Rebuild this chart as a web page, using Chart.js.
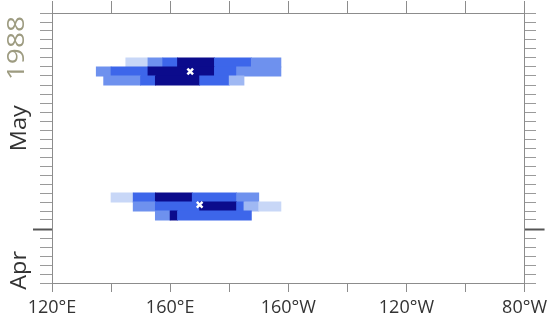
<!DOCTYPE html>
<html>
<head>
<meta charset="utf-8">
<script src="https://cdn.jsdelivr.net/npm/chart.js@4/dist/chart.umd.min.js"></script>
<style>
  html, body { margin: 0; padding: 0; background: #fff; }
</style>
</head>
<body>
<canvas id="hov" width="552" height="327"></canvas>
<script>
// Longitude axis (degrees east) and day axis (days since 25 Apr 1988)
const lonTicks = [120, 160, 200, 240, 280];
const lonTickLabels = ['120°E', '160°E', '160°W', '120°W', '80°W'];
const monthLabels = ['Apr', 'May'];
const monthLabelDays = [1.4, 17.2];
const monthStartDays = [6];          // 1 May
const yearLabel = '1988';
const yearLabelDay = 26.1;

// Shaded cells: west edge, east edge, day row, shade level (1 lightest .. 5 darkest)
const cellLon0 = [145, 152.5, 157.5, 162.5, 175, 187.5,
                  135, 140, 152.5, 175, 182.5,
                  137.5, 150, 155, 170, 180,
                  140, 147.5, 155, 167.5, 182.5,
                  147.5, 155, 170, 182.5, 185, 190,
                  155, 160, 162.5];
const cellLon1 = [152.5, 157.5, 162.5, 175, 187.5, 197.5,
                  140, 152.5, 175, 182.5, 197.5,
                  150, 155, 170, 180, 185,
                  147.5, 155, 167.5, 182.5, 190,
                  155, 170, 182.5, 185, 190, 197.5,
                  160, 162.5, 187.5];
const cellDay = [24, 24, 24, 24, 24, 24,
                 23, 23, 23, 23, 23,
                 22, 22, 22, 22, 22,
                 9, 9, 9, 9, 9,
                 8, 8, 8, 8, 8, 8,
                 7, 7, 7];
const cellLevel = [1, 3, 4, 5, 4, 3,
                   3, 4, 5, 4, 3,
                   3, 4, 5, 4, 2,
                   1, 4, 5, 4, 3,
                   3, 4, 5, 4, 2, 1,
                   3, 5, 4];

const shadeColors = ['#c8d7f7', '#9fb8f3', '#6e91ee', '#3d66ea', '#0b0b8c'];

// Storm centre markers
const centreLon = [166.8, 170];
const centreDay = [23.5, 8.7];

const isMonthStart = v => monthStartDays.includes(v);

const axisText = {
  id: 'axisText',
  afterDraw(chart) {
    const { ctx } = chart;
    const y = chart.scales.y;
    const put = (txt, day, color, x, size, stretch) => {
      ctx.save();
      ctx.translate(x, y.getPixelForValue(day));
      ctx.rotate(-Math.PI / 2);
      ctx.scale(stretch, 1);
      ctx.fillStyle = color;
      ctx.textAlign = 'center';
      ctx.textBaseline = 'middle';
      ctx.font = size + 'px "Open Sans"';
      ctx.fillText(txt, 0, 0);
      ctx.restore();
    };
    monthLabels.forEach((m, i) => put(m, monthLabelDays[i], '#333333', 20, 21, 1.12));
    put(yearLabel, yearLabelDay, '#9d9b80', 17, 23, 1.22);
  }
};

const frameColor = '#8c8c8c';

new Chart(document.getElementById('hov'), {
  type: 'bar',
  data: {
    datasets: [
      {
        type: 'scatter',
        data: centreLon.map((lon, i) => ({ x: lon, y: centreDay[i] })),
        pointStyle: 'crossRot',
        pointRadius: 4,
        borderColor: '#ffffff',
        borderWidth: 2.5,
        xAxisID: 'x',
        yAxisID: 'y'
      },
      {
        type: 'bar',
        indexAxis: 'y',
        data: cellDay.map((d, i) => ({ x: [cellLon0[i], cellLon1[i]], y: d + 0.5 })),
        backgroundColor: cellLevel.map(l => shadeColors[l - 1]),
        borderWidth: 0,
        barPercentage: 1,
        categoryPercentage: 1,
        inflateAmount: 0.4,
        xAxisID: 'x',
        yAxisID: 'y'
      }
    ]
  },
  options: {
    responsive: false,
    animation: false,
    indexAxis: 'y',
    layout: { padding: 0 },
    plugins: { legend: { display: false }, tooltip: { enabled: false } },
    scales: {
      x: {
        type: 'linear', axis: 'x', position: 'bottom', min: 120, max: 280, offset: false,
        ticks: {
          stepSize: 20, autoSkip: false, maxRotation: 0, padding: 5, color: '#333333',
          font: { family: 'Open Sans', size: 18 },
          callback: v => { const k = lonTicks.indexOf(v); return k < 0 ? '' : lonTickLabels[k]; }
        },
        grid: { offset: false, drawOnChartArea: false, tickLength: 9, tickColor: frameColor },
        border: { color: frameColor, width: 1 },
        afterFit: s => { s.height = 44; }
      },
      xTop: {
        type: 'linear', axis: 'x', position: 'top', min: 120, max: 280, offset: false,
        ticks: { display: false, stepSize: 20, autoSkip: false },
        grid: { offset: false, drawOnChartArea: false, tickLength: 12, tickColor: frameColor },
        border: { color: frameColor, width: 1 },
        afterFit: s => { s.height = 13; }
      },
      y: {
        type: 'linear', axis: 'y', position: 'left', min: 0, max: 30, offset: false,
        ticks: { display: false, stepSize: 1, autoSkip: false },
        grid: {
          offset: false, drawOnChartArea: false, tickLength: 19,
          tickColor: c => isMonthStart(c.tick.value) ? '#555555' : '#9a9a9a',
          tickWidth: c => isMonthStart(c.tick.value) ? 2 : 1,
          tickBorderDash: c => isMonthStart(c.tick.value) ? [] : [0, 7, 12, 0],
          tickBorderDashOffset: 0
        },
        border: { color: frameColor, width: 1 },
        afterFit: s => { s.width = 52; }
      },
      yRight: {
        type: 'linear', axis: 'y', position: 'right', min: 0, max: 30, offset: false,
        ticks: { display: false, stepSize: 1, autoSkip: false },
        grid: {
          offset: false, drawOnChartArea: false, tickLength: 20,
          tickColor: c => isMonthStart(c.tick.value) ? '#555555' : '#9a9a9a',
          tickWidth: c => isMonthStart(c.tick.value) ? 2 : 1,
          tickBorderDash: c => isMonthStart(c.tick.value) ? [] : [11, 20],
          tickBorderDashOffset: 0
        },
        border: { color: frameColor, width: 1 },
        afterFit: s => { s.width = 26; }
      }
    }
  },
  plugins: [axisText]
});
</script>
</body>
</html>
